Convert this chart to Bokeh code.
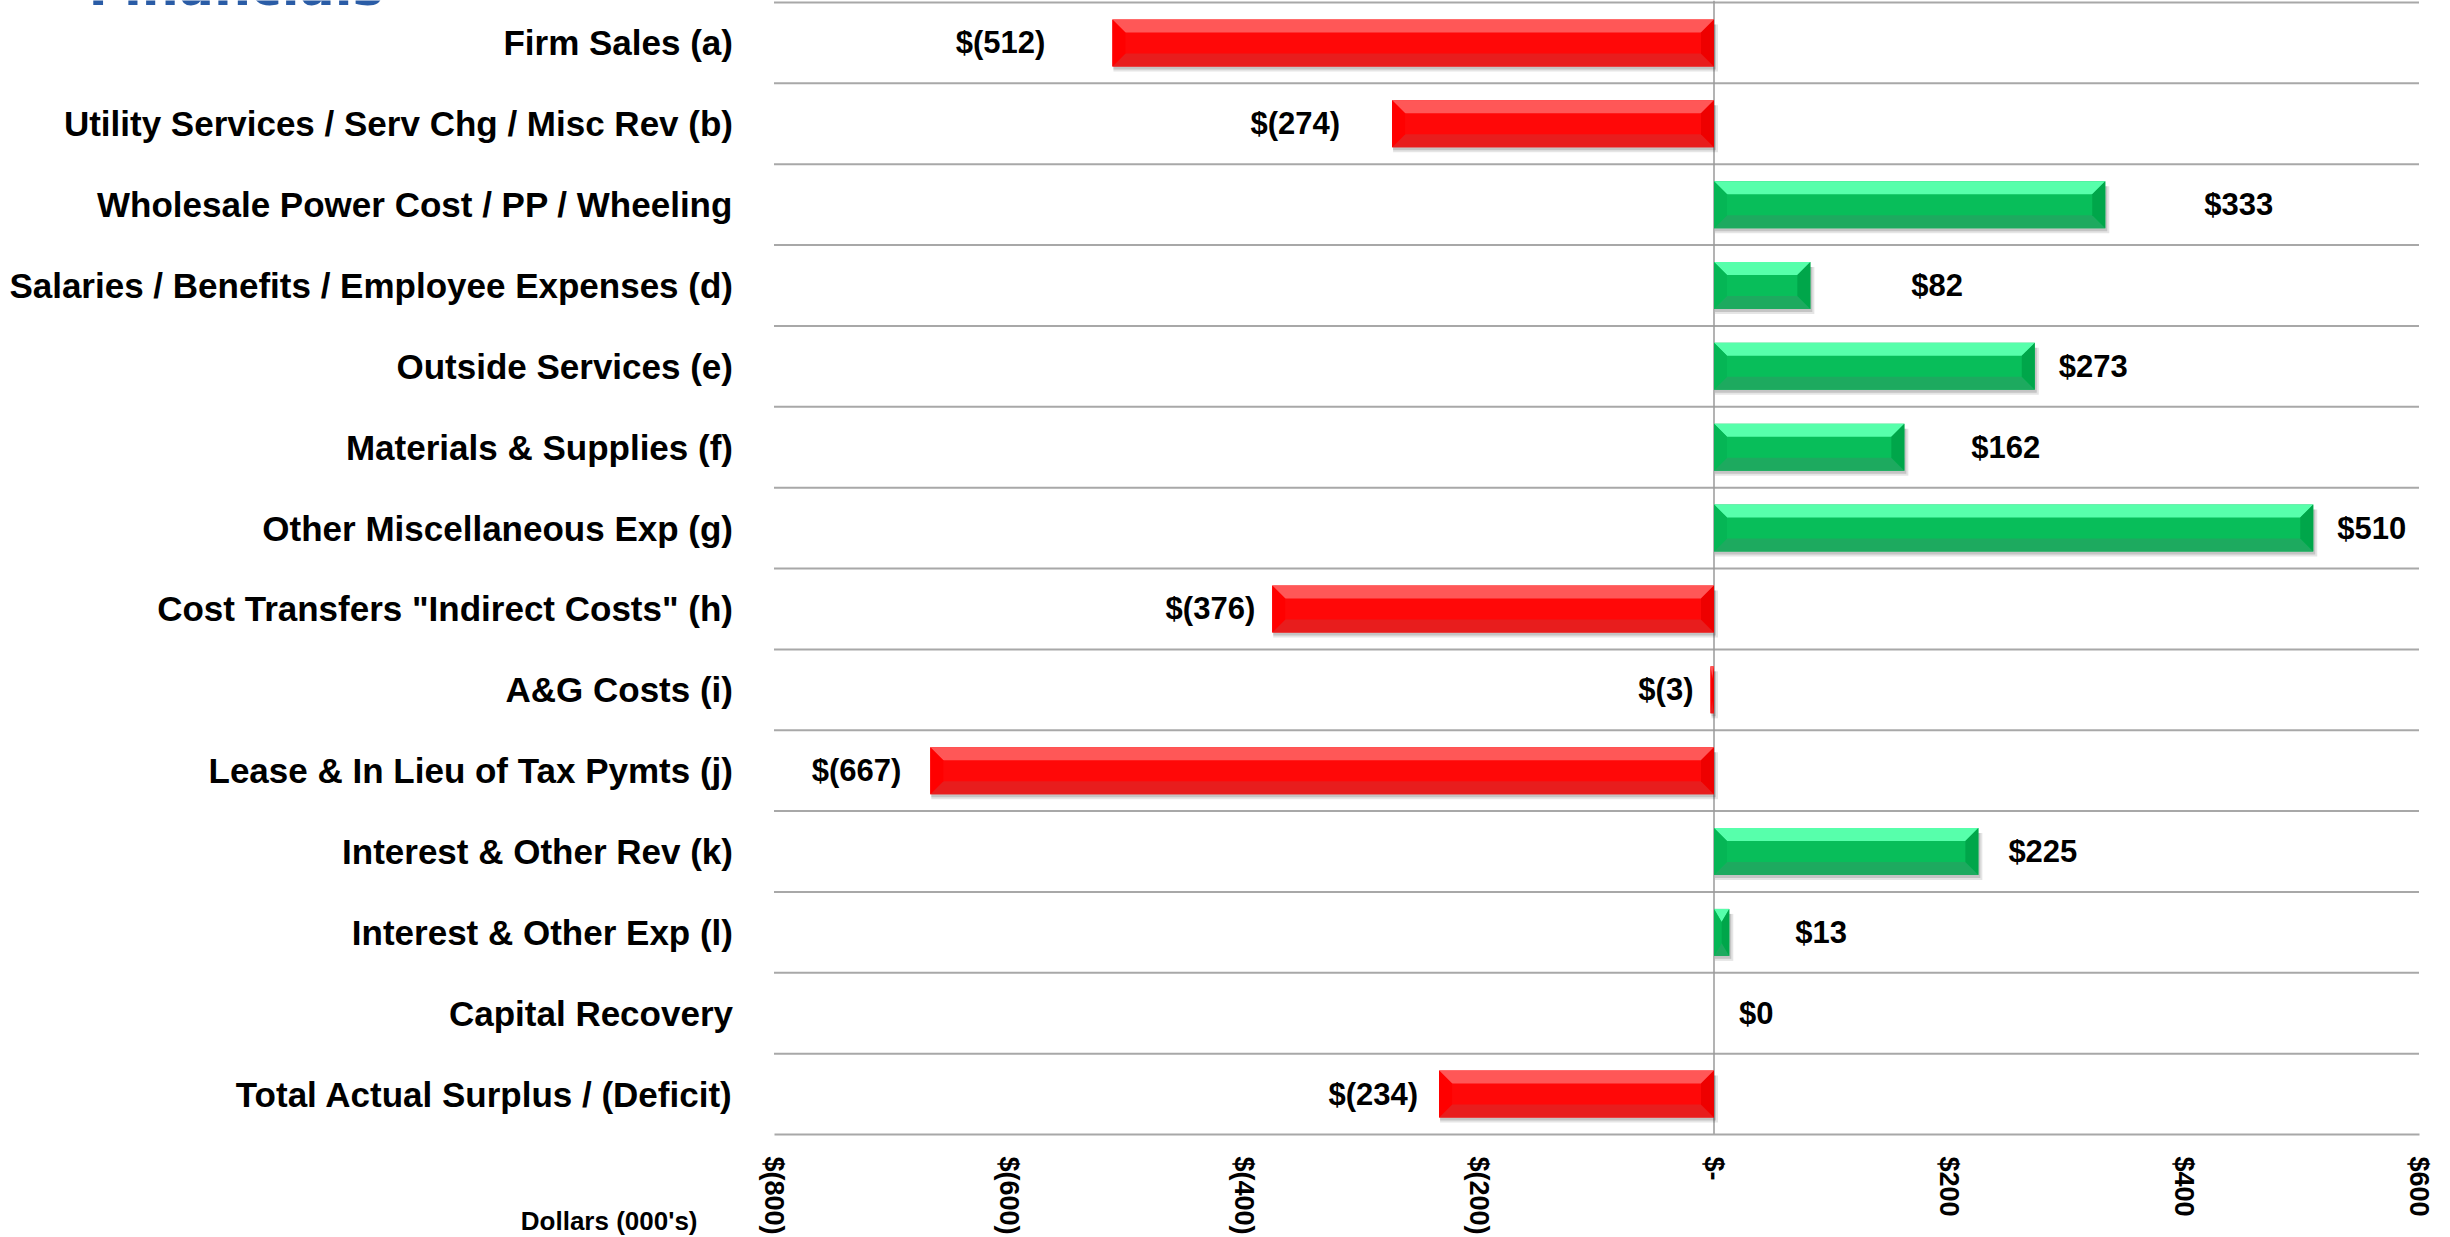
from bokeh.plotting import figure
from bokeh.models import Range1d, FixedTicker, Label, ColumnDataSource
from bokeh.embed import file_html
from bokeh.resources import INLINE
from bokeh.core.properties import value

# ---------------- data ----------------
categories = [
    "Firm Sales (a)",
    "Utility Services / Serv Chg / Misc Rev (b)",
    "Wholesale Power Cost / PP / Wheeling",
    "Salaries / Benefits / Employee Expenses (d)",
    "Outside Services (e)",
    "Materials & Supplies (f)",
    "Other Miscellaneous Exp (g)",
    'Cost Transfers "Indirect Costs" (h)',
    "A&G Costs (i)",
    "Lease & In Lieu of Tax Pymts (j)",
    "Interest & Other Rev (k)",
    "Interest & Other Exp (l)",
    "Capital Recovery",
    "Total Actual Surplus / (Deficit)",
]
variance = [-512, -274, 333, 82, 273, 162, 510, -376, -3, -667, 225, 13, 0, -234]
x_ticks = [-800, -600, -400, -200, 0, 200, 400, 600]
x_tick_labels = ["$(800)", "$(600)", "$(400)", "$(200)", "$-", "$200", "$400", "$600"]
axis_title = "Dollars (000's)"
page_title = "Financials"

# ---------------- layout / style (kept apart from the data) ----------------
label_gap_px = [67, 52, 99, 101, 24, 67, 24, 17, 17, 29, 30, 66, 25, 21]
W, H = 2442, 1236
X0, X1 = -800, 600                  # value axis extent
PLOT_LEFT_PX, PLOT_RIGHT_PX = 773.5, 2418.5
PX_X = (PLOT_RIGHT_PX - PLOT_LEFT_PX) / (X1 - X0)
ROW_PX = 80.86
n = len(categories)
x_start = X0 - PLOT_LEFT_PX / PX_X
x_end = x_start + W / PX_X
y_end = n - 0.5 + 2 / ROW_PX
y_start = y_end - H / ROW_PX
BAR_H = 47 / ROW_PX
STRIP = 13 / ROW_PX
BEVEL = 13 / PX_X
FONT = "Liberation Sans"
GRID = "#A8A8A8"

RED = dict(main="#FF0808", top="#FF5757", bot="#E81D1D", left="#FF0000", right="#EE0000")
GRN = dict(main="#08BE5A", top="#57FFAB", bot="#1DAA5F", left="#05B655", right="#00A64A")

ypos = [n - 1 - i for i in range(n)]

p = figure(width=W, height=H, x_range=Range1d(x_start, x_end), y_range=Range1d(y_start, y_end),
           output_backend="svg", toolbar_location=None, min_border=0,
           min_border_left=0, min_border_right=0, min_border_top=0, min_border_bottom=0)
p.outline_line_color = None
p.background_fill_color = "white"
p.border_fill_color = "white"
p.xgrid.visible = False
p.ygrid.visible = False

# y axis: category names (placed at the value-axis start)
p.yaxis.fixed_location = X0
p.yaxis.ticker = FixedTicker(ticks=ypos)
p.yaxis.major_label_overrides = {y: c for y, c in zip(ypos, categories)}
p.yaxis.axis_line_color = None
p.yaxis.major_tick_line_color = None
p.yaxis.minor_tick_line_color = None
p.yaxis.major_label_standoff = 35
p.yaxis.major_label_text_font = FONT
p.yaxis.major_label_text_font_style = "bold"
p.yaxis.major_label_text_font_size = "35px"
p.yaxis.major_label_text_color = "black"

# x axis: dollars
p.xaxis.fixed_location = -0.5
p.xaxis.bounds = (X0, X1)
p.xaxis.ticker = FixedTicker(ticks=x_ticks)
p.xaxis.major_label_overrides = {t: l for t, l in zip(x_ticks, x_tick_labels)}
p.xaxis.major_label_orientation = "vertical"
p.xaxis.axis_line_color = GRID
p.xaxis.axis_line_width = 2
p.xaxis.major_tick_line_color = None
p.xaxis.minor_tick_line_color = None
p.xaxis.major_label_standoff = 16
p.xaxis.major_label_text_font = FONT
p.xaxis.major_label_text_font_style = "bold"
p.xaxis.major_label_text_font_size = "27px"
p.xaxis.major_label_text_color = "black"

# row separators and zero line
bounds_y = [k + 0.5 for k in range(0, n)]
p.segment(x0=[X0] * len(bounds_y), x1=[X1] * len(bounds_y), y0=bounds_y, y1=bounds_y,
          line_color=GRID, line_width=2)
p.segment(x0=[0], x1=[0], y0=[-0.5], y1=[y_end], line_color="#9A9A9A", line_width=1.5)

# ---------------- bars with bevel + shadow ----------------
sh = dict(left=[], right=[], top=[], bottom=[])
main = dict(left=[], right=[], top=[], bottom=[], color=[])
faces = dict(xs=[], ys=[], color=[])
for v, y in zip(variance, ypos):
    if v == 0:
        continue
    x0, x1 = min(0, v), max(0, v)
    yt, yb = y + BAR_H / 2, y - BAR_H / 2
    pal = RED if v < 0 else GRN
    sh["left"].append(x0 + 1 / PX_X); sh["right"].append(x1 + 4 / PX_X)
    sh["top"].append(yt - 5 / ROW_PX); sh["bottom"].append(yb - 5 / ROW_PX)
    main["left"].append(x0); main["right"].append(x1)
    main["top"].append(yt); main["bottom"].append(yb); main["color"].append(pal["main"])
    b = min(BEVEL, (x1 - x0) / 2)
    faces["xs"] += [[x0, x1, x1 - b, x0 + b], [x0, x1, x1 - b, x0 + b],
                    [x0, x0 + b, x0 + b, x0], [x1, x1 - b, x1 - b, x1]]
    faces["ys"] += [[yt, yt, yt - STRIP, yt - STRIP], [yb, yb, yb + STRIP, yb + STRIP],
                    [yt, yt - STRIP, yb + STRIP, yb], [yt, yt - STRIP, yb + STRIP, yb]]
    faces["color"] += [pal["top"], pal["bot"], pal["left"], pal["right"]]

p.quad(source=ColumnDataSource(sh), left="left", right="right", top="top", bottom="bottom",
       fill_color="#000000", fill_alpha=0.10, line_color=None)
sh2 = {k: list(vv) for k, vv in sh.items()}
sh2["right"] = [r - 2 / PX_X for r in sh["right"]]
sh2["bottom"] = [bb + 2 / ROW_PX for bb in sh["bottom"]]
p.quad(source=ColumnDataSource(sh2), left="left", right="right", top="top", bottom="bottom",
       fill_color="#000000", fill_alpha=0.14, line_color=None)
p.quad(source=ColumnDataSource(main), left="left", right="right", top="top", bottom="bottom",
       fill_color="color", line_color=None)
p.patches(source=ColumnDataSource(faces), xs="xs", ys="ys", fill_color="color", line_color=None)

# ---------------- value labels ----------------
def fmt(v):
    return f"$({abs(v)})" if v < 0 else f"${v}"

neg = dict(x=[], y=[], t=[], off=[])
pos = dict(x=[], y=[], t=[], off=[])
for v, y, g in zip(variance, ypos, label_gap_px):
    d = neg if v < 0 else pos
    d["x"].append(v); d["y"].append(y); d["t"].append(fmt(v))
    d["off"].append(-g if v < 0 else g)

for d, al in ((neg, "right"), (pos, "left")):
    p.text(source=ColumnDataSource(d), x="x", y="y", text="t", x_offset="off",
           text_align=al, text_baseline="middle", text_font=value(FONT),
           text_font_style="bold", text_font_size="31px", text_color="black")

# ---------------- extra texts ----------------
p.add_layout(Label(x=X0 + (697 - PLOT_LEFT_PX) / PX_X, y=y_end - 1220 / ROW_PX, text=axis_title,
                   text_align="right", text_baseline="middle", text_font=FONT,
                   text_font_style="bold", text_font_size="26px", text_color="black"))
p.add_layout(Label(x=X0 + (88 - PLOT_LEFT_PX) / PX_X, y=y_end + 14 / ROW_PX, text=page_title,
                   text_align="left", text_baseline="alphabetic", text_font="DejaVu Sans",
                   text_font_style="bold", text_font_size="52px", text_color="#2A5CA6"))

open("out.html", "w").write(file_html(p, INLINE))
